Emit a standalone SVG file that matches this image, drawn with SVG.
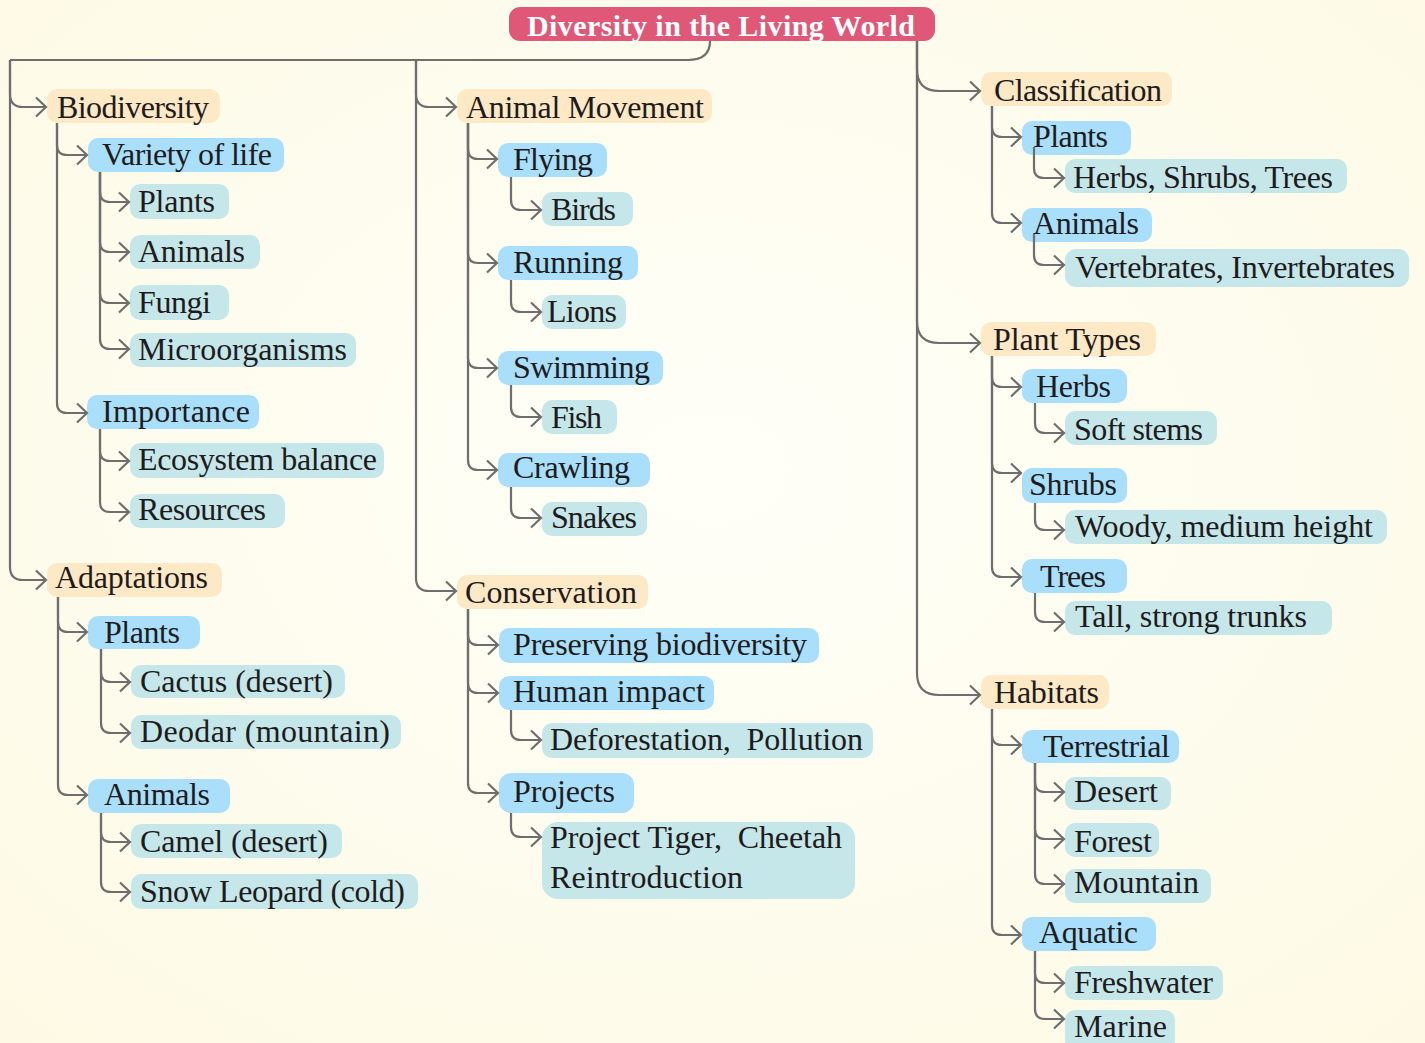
<svg xmlns="http://www.w3.org/2000/svg" width="1425" height="1043" viewBox="0 0 1425 1043">
<defs>
<radialGradient id="bg" cx="0.5" cy="0.45" r="0.75">
<stop offset="0" stop-color="#fffff8"/>
<stop offset="1" stop-color="#fdf9e4"/>
</radialGradient>
<marker id="ah" markerUnits="userSpaceOnUse" viewBox="0 0 14 22" markerWidth="14" markerHeight="22" refX="11" refY="11" orient="auto" overflow="visible">
<path d="M1,1.5 L11,11 L1,20.5" fill="none" stroke="#6e6e6e" stroke-width="2.2" stroke-linejoin="miter"/>
</marker>
<style>
.l1{fill:#fde9c6}
.l2{fill:#a9dffa}
.l3{fill:#c6e7e9}
.t{font-family:"Liberation Serif","DejaVu Serif",serif;font-size:32px;fill:#1f1b1c}
.ttl{font-family:"Liberation Serif","DejaVu Serif",serif;font-size:30px;font-weight:bold;fill:#ffffff}
.c{fill:none;stroke:#6e6e6e;stroke-width:2.2}
.a{marker-end:url(#ah)}
</style>
</defs>
<rect x="0" y="0" width="1425" height="1043" fill="url(#bg)"/>

<g id="title">
<rect x="509" y="7" width="426" height="34" rx="11" fill="#df5878"/>
<text class="ttl" x="527" y="36" textLength="388">Diversity in the Living World</text>
</g>

<g id="biodiversity"><rect class="l1" x="47" y="89" width="173" height="34" rx="10"/><text class="t" x="57" y="118" textLength="152">Biodiversity</text></g>
<g id="variety-of-life"><rect class="l2" x="88" y="138" width="196" height="34" rx="10"/><text class="t" x="102" y="165" textLength="170">Variety of life</text></g>
<g id="bio-plants"><rect class="l3" x="130" y="184" width="99" height="35" rx="10"/><text class="t" x="138" y="212" textLength="77">Plants</text></g>
<g id="bio-animals"><rect class="l3" x="130" y="235" width="130" height="34" rx="10"/><text class="t" x="138" y="262" textLength="107">Animals</text></g>
<g id="bio-fungi"><rect class="l3" x="130" y="285" width="99" height="35" rx="10"/><text class="t" x="138" y="313" textLength="73">Fungi</text></g>
<g id="bio-micro"><rect class="l3" x="130" y="333" width="226" height="34" rx="10"/><text class="t" x="138" y="360" textLength="209">Microorganisms</text></g>
<g id="importance"><rect class="l2" x="87" y="395" width="172" height="34" rx="10"/><text class="t" x="102" y="422" textLength="148">Importance</text></g>
<g id="ecosystem-balance"><rect class="l3" x="130" y="443" width="254" height="35" rx="10"/><text class="t" x="138" y="470" textLength="239">Ecosystem balance</text></g>
<g id="resources"><rect class="l3" x="130" y="494" width="155" height="34" rx="10"/><text class="t" x="138" y="520" textLength="128">Resources</text></g>

<g id="adaptations"><rect class="l1" x="47" y="563" width="175" height="34" rx="10"/><text class="t" x="55" y="588" textLength="153">Adaptations</text></g>
<g id="adapt-plants"><rect class="l2" x="88" y="616" width="112" height="33" rx="10"/><text class="t" x="104" y="643" textLength="76">Plants</text></g>
<g id="cactus"><rect class="l3" x="131" y="665" width="214" height="33" rx="10"/><text class="t" x="140" y="692" textLength="193">Cactus (desert)</text></g>
<g id="deodar"><rect class="l3" x="131" y="715" width="270" height="34" rx="10"/><text class="t" x="140" y="742" textLength="250">Deodar (mountain)</text></g>
<g id="adapt-animals"><rect class="l2" x="88" y="779" width="142" height="34" rx="10"/><text class="t" x="104" y="805" textLength="106">Animals</text></g>
<g id="camel"><rect class="l3" x="131" y="824" width="211" height="34" rx="10"/><text class="t" x="140" y="852" textLength="188">Camel (desert)</text></g>
<g id="snow-leopard"><rect class="l3" x="131" y="874" width="287" height="35" rx="10"/><text class="t" x="140" y="902" textLength="265">Snow Leopard (cold)</text></g>

<g id="animal-movement"><rect class="l1" x="457" y="89" width="255" height="34" rx="10"/><text class="t" x="466" y="118" textLength="238">Animal Movement</text></g>
<g id="flying"><rect class="l2" x="498" y="143" width="109" height="34" rx="10"/><text class="t" x="513" y="170" textLength="80">Flying</text></g>
<g id="birds"><rect class="l3" x="542" y="192" width="91" height="34" rx="10"/><text class="t" x="551" y="220" textLength="65">Birds</text></g>
<g id="running"><rect class="l2" x="498" y="246" width="140" height="34" rx="10"/><text class="t" x="513" y="273" textLength="110">Running</text></g>
<g id="lions"><rect class="l3" x="542" y="295" width="84" height="34" rx="10"/><text class="t" x="547" y="322" textLength="70">Lions</text></g>
<g id="swimming"><rect class="l2" x="498" y="351" width="165" height="34" rx="10"/><text class="t" x="513" y="378" textLength="137">Swimming</text></g>
<g id="fish"><rect class="l3" x="542" y="400" width="75" height="34" rx="10"/><text class="t" x="551" y="428" textLength="51">Fish</text></g>
<g id="crawling"><rect class="l2" x="498" y="453" width="152" height="34" rx="10"/><text class="t" x="513" y="478" textLength="117">Crawling</text></g>
<g id="snakes"><rect class="l3" x="542" y="502" width="105" height="34" rx="10"/><text class="t" x="551" y="528" textLength="86">Snakes</text></g>

<g id="conservation"><rect class="l1" x="457" y="575" width="191" height="34" rx="10"/><text class="t" x="465" y="603" textLength="172">Conservation</text></g>
<g id="preserving-biodiversity"><rect class="l2" x="499" y="628" width="320" height="35" rx="10"/><text class="t" x="513" y="655" textLength="294">Preserving biodiversity</text></g>
<g id="human-impact"><rect class="l2" x="499" y="676" width="215" height="34" rx="10"/><text class="t" x="513" y="702" textLength="192">Human impact</text></g>
<g id="deforestation"><rect class="l3" x="542" y="723" width="331" height="35" rx="10"/><text class="t" x="550" y="750" textLength="313" xml:space="preserve">Deforestation,  Pollution</text></g>
<g id="projects"><rect class="l2" x="499" y="773" width="135" height="40" rx="12"/><text class="t" x="513" y="802" textLength="102">Projects</text></g>
<g id="project-tiger"><rect class="l3" x="542" y="822" width="313" height="77" rx="16"/><text class="t" x="550" y="848" textLength="292" xml:space="preserve">Project Tiger,  Cheetah</text><text class="t" x="550" y="888" textLength="193">Reintroduction</text></g>

<g id="classification"><rect class="l1" x="981" y="72" width="191" height="34" rx="10"/><text class="t" x="994" y="101" textLength="168">Classification</text></g>
<g id="class-plants"><rect class="l2" x="1022" y="121" width="109" height="34" rx="10"/><text class="t" x="1033" y="147" textLength="75">Plants</text></g>
<g id="herbs-shrubs-trees"><rect class="l3" x="1065" y="159" width="282" height="34" rx="10"/><text class="t" x="1073" y="188" textLength="260">Herbs, Shrubs, Trees</text></g>
<g id="class-animals"><rect class="l2" x="1022" y="208" width="130" height="34" rx="10"/><text class="t" x="1033" y="234" textLength="106">Animals</text></g>
<g id="vertebrates"><rect class="l3" x="1065" y="249" width="344" height="38" rx="11"/><text class="t" x="1075" y="278" textLength="320">Vertebrates, Invertebrates</text></g>

<g id="plant-types"><rect class="l1" x="981" y="322" width="175" height="34" rx="10"/><text class="t" x="993" y="350" textLength="148">Plant Types</text></g>
<g id="herbs"><rect class="l2" x="1022" y="369" width="105" height="34" rx="10"/><text class="t" x="1036" y="397" textLength="75">Herbs</text></g>
<g id="soft-stems"><rect class="l3" x="1065" y="411" width="152" height="34" rx="10"/><text class="t" x="1074" y="440" textLength="129">Soft stems</text></g>
<g id="shrubs"><rect class="l2" x="1022" y="468" width="105" height="35" rx="10"/><text class="t" x="1029" y="495" textLength="88">Shrubs</text></g>
<g id="woody"><rect class="l3" x="1065" y="510" width="322" height="34" rx="10"/><text class="t" x="1075" y="537" textLength="298">Woody, medium height</text></g>
<g id="trees"><rect class="l2" x="1022" y="559" width="105" height="34" rx="10"/><text class="t" x="1040" y="587" textLength="66">Trees</text></g>
<g id="tall-strong"><rect class="l3" x="1065" y="601" width="267" height="34" rx="10"/><text class="t" x="1075" y="627" textLength="232">Tall, strong trunks</text></g>

<g id="habitats"><rect class="l1" x="981" y="675" width="128" height="34" rx="10"/><text class="t" x="994" y="703" textLength="105">Habitats</text></g>
<g id="terrestrial"><rect class="l2" x="1022" y="730" width="157" height="33" rx="10"/><text class="t" x="1043" y="757" textLength="127">Terrestrial</text></g>
<g id="desert"><rect class="l3" x="1065" y="777" width="106" height="33" rx="10"/><text class="t" x="1074" y="802" textLength="84">Desert</text></g>
<g id="forest"><rect class="l3" x="1065" y="823" width="94" height="34" rx="10"/><text class="t" x="1074" y="852" textLength="78">Forest</text></g>
<g id="mountain"><rect class="l3" x="1065" y="869" width="146" height="34" rx="10"/><text class="t" x="1074" y="893" textLength="125">Mountain</text></g>
<g id="aquatic"><rect class="l2" x="1022" y="917" width="134" height="34" rx="10"/><text class="t" x="1039" y="943" textLength="99">Aquatic</text></g>
<g id="freshwater"><rect class="l3" x="1065" y="966" width="158" height="34" rx="10"/><text class="t" x="1074" y="993" textLength="139">Freshwater</text></g>
<g id="marine"><rect class="l3" x="1065" y="1010" width="110" height="40" rx="10"/><text class="t" x="1074" y="1037" textLength="93">Marine</text></g>

<g id="connectors">
<path class="c" d="M710,41 C710,54 703,60 688,60 H10"/>
<path class="c a" d="M10,60 V94 Q10,107 23,107 H46"/>
<path class="c a" d="M10,60 V567 Q10,580 23,580 H46"/>
<path class="c a" d="M416,60 V94 Q416,107 429,107 H456"/>
<path class="c a" d="M416,60 V578 Q416,591 429,591 H456"/>
<path class="c a" d="M917,41 V69 Q917,91 939,91 H980"/>
<path class="c a" d="M917,41 V321 Q917,343 939,343 H980"/>
<path class="c a" d="M917,41 V673 Q917,695 939,695 H980"/>

<path class="c a" d="M57,123 V145 Q57,155 67,155 H87"/>
<path class="c a" d="M57,123 V403 Q57,413 67,413 H87"/>
<path class="c a" d="M100,172 V192 Q100,202 110,202 H129"/>
<path class="c a" d="M100,172 V242 Q100,252 110,252 H129"/>
<path class="c a" d="M100,172 V293 Q100,303 110,303 H129"/>
<path class="c a" d="M100,172 V339 Q100,349 110,349 H129"/>
<path class="c a" d="M100,429 V451 Q100,461 110,461 H129"/>
<path class="c a" d="M100,429 V502 Q100,512 110,512 H129"/>
<path class="c a" d="M58,597 V622 Q58,632 68,632 H87"/>
<path class="c a" d="M58,597 V785 Q58,795 68,795 H87"/>
<path class="c a" d="M101,649 V672 Q101,682 111,682 H130"/>
<path class="c a" d="M101,649 V723 Q101,733 111,733 H130"/>
<path class="c a" d="M101,813 V832 Q101,842 111,842 H130"/>
<path class="c a" d="M101,813 V882 Q101,892 111,892 H130"/>

<path class="c a" d="M468,123 V149 Q468,159 478,159 H497"/>
<path class="c a" d="M468,123 V253 Q468,263 478,263 H497"/>
<path class="c a" d="M468,123 V358 Q468,368 478,368 H497"/>
<path class="c a" d="M468,123 V460 Q468,470 478,470 H497"/>
<path class="c a" d="M511,177 V200 Q511,210 521,210 H541"/>
<path class="c a" d="M511,280 V302 Q511,312 521,312 H541"/>
<path class="c a" d="M511,385 V407 Q511,417 521,417 H541"/>
<path class="c a" d="M511,487 V508 Q511,518 521,518 H541"/>
<path class="c a" d="M468,609 V635 Q468,645 478,645 H498"/>
<path class="c a" d="M468,609 V683 Q468,693 478,693 H498"/>
<path class="c a" d="M468,609 V783 Q468,793 478,793 H498"/>
<path class="c a" d="M511,710 V730 Q511,740 521,740 H541"/>
<path class="c a" d="M511,813 V827 Q511,837 521,837 H541"/>

<path class="c a" d="M992,106 V127 Q992,137 1002,137 H1021"/>
<path class="c a" d="M992,106 V213 Q992,223 1002,223 H1021"/>
<path class="c a" d="M1034,147 V168 Q1034,178 1044,178 H1064"/>
<path class="c a" d="M1034,234 V255 Q1034,265 1044,265 H1064"/>
<path class="c a" d="M992,356 V377 Q992,387 1002,387 H1021"/>
<path class="c a" d="M992,356 V463 Q992,473 1002,473 H1021"/>
<path class="c a" d="M992,356 V567 Q992,577 1002,577 H1021"/>
<path class="c a" d="M1035,403 V423 Q1035,433 1045,433 H1064"/>
<path class="c a" d="M1035,503 V520 Q1035,530 1045,530 H1064"/>
<path class="c a" d="M1035,593 V612 Q1035,622 1045,622 H1064"/>
<path class="c a" d="M992,709 V735 Q992,745 1002,745 H1021"/>
<path class="c a" d="M992,709 V925 Q992,935 1002,935 H1021"/>
<path class="c a" d="M1035,763 V782 Q1035,792 1045,792 H1064"/>
<path class="c a" d="M1035,763 V829 Q1035,839 1045,839 H1064"/>
<path class="c a" d="M1035,763 V874 Q1035,884 1045,884 H1064"/>
<path class="c a" d="M1035,951 V973 Q1035,983 1045,983 H1064"/>
<path class="c a" d="M1035,951 V1009 Q1035,1019 1045,1019 H1064"/>
</g>
</svg>
